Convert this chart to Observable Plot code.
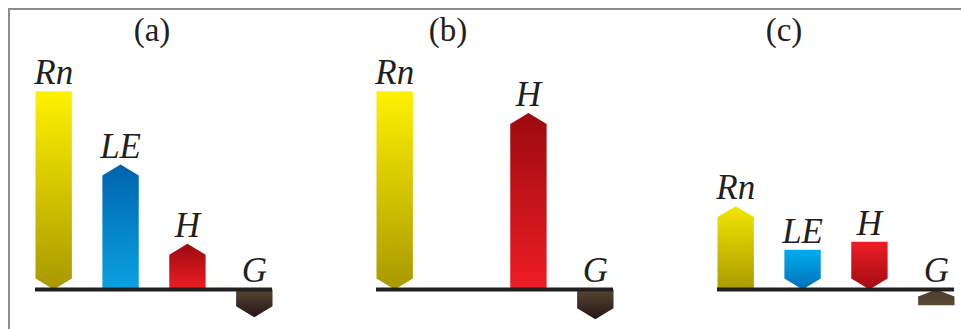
<!DOCTYPE html>
<html><head><meta charset="utf-8">
<script src="https://cdn.jsdelivr.net/npm/d3@7"></script>
<script src="https://cdn.jsdelivr.net/npm/@observablehq/plot@0.6"></script>
<style>
html,body{margin:0;padding:0;background:#fff;}
#wrap{position:relative;width:961px;height:329px;overflow:hidden;}
#wrap svg{display:block;}
#frame{position:absolute;left:8px;top:8px;width:960px;height:330px;border-top:2px solid #8c8c8c;border-left:2px solid #8c8c8c;pointer-events:none;}
</style></head><body>
<div id="wrap"><div id="frame"></div></div>
<script>
// ---- data ----
const panels = ["a", "b", "c"];
const panelTitles = ["(a)", "(b)", "(c)"];
const fluxes = ["Rn", "LE", "H", "G"];
// flux magnitudes (relative units, Rn of panel (a) = 100)
const magnitudeA = [100, 63, 23, 14];
const magnitudeB = [100, 0, 89, 15];
const magnitudeC = [42, 20, 24, 8];
// side of the surface line on which each flux is drawn
const sideA = ["above", "above", "above", "below"];
const sideB = ["above", "above", "above", "below"];
const sideC = ["above", "above", "above", "below"];
// direction the arrow points
const pointA = ["down", "up", "up", "down"];
const pointB = ["down", "up", "up", "down"];
const pointC = ["up", "down", "down", "up"];

// ---- style ----
const HALF = 0.272;     // half arrow width (x units)
const HEAD = 5.5;       // arrow head length (y units)
const gradientStops = {
  Rn: {up: ["#f4e600", "#a99b00"], down: ["#fff200", "#a89800"]},
  LE: {up: ["#0063ad", "#0aa2e2"], down: ["#00aeef", "#006fb9"]},
  H:  {up: ["#9c0a0f", "#ee1d25"], down: ["#ee1d25", "#a00c12"]},
  G:  {up: ["#4b3e2b", "#5a4a32"], down: ["#554630", "#28141a"]}
};
const INK = "#231f20";
const SERIF = "'Liberation Serif', 'Times New Roman', serif";

// ---- build tables ----
const mags = [magnitudeA, magnitudeB, magnitudeC];
const sides = [sideA, sideB, sideC];
const points = [pointA, pointB, pointC];
const rows = [];
panels.forEach((p, pi) => fluxes.forEach((f, i) => rows.push({
  panel: p, flux: f, index: i, value: mags[pi][i], side: sides[pi][i], point: points[pi][i],
  id: `g-${p}-${f}`
})));
const shown = rows.filter(r => r.value > 0);

const vertices = shown.flatMap(r => {
  const s = r.side === "above" ? 1 : -1;
  const e = s * r.value;
  const h = Math.min(HEAD, 0.45 * r.value);
  const outward = (s === 1 && r.point === "up") || (s === -1 && r.point === "down");
  const x = r.index;
  const pts = outward
    ? [[x - HALF, 0], [x - HALF, e - s * h], [x, e], [x + HALF, e - s * h], [x + HALF, 0]]
    : [[x - HALF, e], [x + HALF, e], [x + HALF, s * h], [x, 0], [x - HALF, s * h]];
  return pts.map(([px, py]) => ({panel: r.panel, id: r.id, grad: `url(#${r.id})`, x: px, y: py}));
});

const titleMarks = panels.map((p, i) => Plot.text([{panel: p, t: panelTitles[i]}], {
  fx: "panel", frameAnchor: "top", text: "t", lineAnchor: "bottom",
  dx: [-2, -47, -52][i], dy: -11, fontSize: 33, fontFamily: SERIF, fill: INK
}));

const chart = Plot.plot({
  width: 961, height: 329,
  marginLeft: 35, marginRight: 6, marginTop: 51, marginBottom: 0,
  fx: {domain: panels, paddingInner: 0.3045, paddingOuter: 0, axis: null, label: null},
  x: {domain: [-HALF, 3 + HALF], axis: null},
  y: {domain: [-20.2, 120], axis: null},
  color: {type: "identity"},
  marks: [
    Plot.line(vertices, {fx: "panel", x: "x", y: "y", z: "id", fill: "grad", stroke: "none"}),
    Plot.ruleY([0], {x1: -HALF, x2: 3 + HALF, stroke: INK, strokeWidth: 4}),
    Plot.text(shown, {
      fx: "panel", x: "index", y: d => d.side === "above" ? d.value : 0, text: "flux",
      dy: -7, lineAnchor: "bottom", fontSize: 35, fontStyle: "italic", fontFamily: SERIF, fill: INK
    }),
    ...titleMarks
  ]
});

const defs = d3.select(chart).insert("defs", ":first-child");
shown.forEach(r => {
  const [top, bottom] = gradientStops[r.flux][r.point];
  const g = defs.append("linearGradient").attr("id", r.id)
    .attr("x1", 0).attr("y1", 0).attr("x2", 0).attr("y2", 1);
  g.append("stop").attr("offset", 0).attr("stop-color", top);
  g.append("stop").attr("offset", 1).attr("stop-color", bottom);
});
document.getElementById("wrap").insertBefore(chart, document.getElementById("frame"));
</script>
</body></html>
